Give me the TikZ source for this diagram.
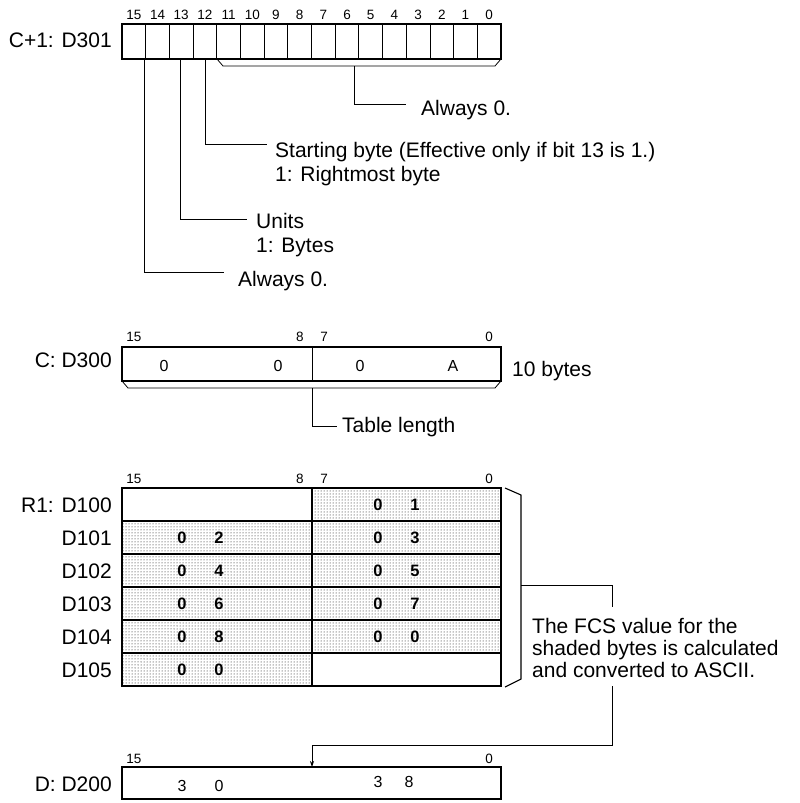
\documentclass[tikz,border=0pt]{standalone}
\usepackage{fontspec}
\setmainfont{Liberation Sans}
\usetikzlibrary{patterns,arrows.meta}
\begin{document}
\begin{tikzpicture}[x=1pt,y=-1pt,
  lbl/.style={inner sep=0pt,font=\fontsize{21}{23}\selectfont},
  bitno/.style={inner sep=0pt,font=\fontsize{13.5}{14}\selectfont},
  val/.style={inner sep=0pt,font=\fontsize{16}{18}\selectfont},
  bval/.style={inner sep=0pt,font=\fontsize{16.5}{18}\selectfont\bfseries},
  reg/.style={draw,line width=1.1pt},
  conn/.style={line width=0.8pt},
  shaded/.style={pattern=dots,pattern color=black},
]
\useasboundingbox (0,0) rectangle (800,803);

% ---------- C+1: D301 ----------
\draw[reg] (122,24) rectangle (501,59);
\foreach \i in {1,...,15} \draw[line width=0.8pt] ({122+\i*23.6875},24) -- ({122+\i*23.6875},59);
\foreach \b [count=\k from 0] in {15,14,13,12,11,10,9,8,7,6,5,4,3,2,1,0}
  \node[bitno] (tb\b) at ({122+(\k+0.5)*23.6875},15) {\b};
\node[lbl,anchor=base east] (labC1) at (112,47) {C+1: D301};

\coordinate (brA) at (217,59);
\coordinate (brB) at (223,66);
\coordinate (brC) at (495,66);
\coordinate (brD) at (501,59);
\draw[conn] (brA) -- (brB) -- (brC) -- (brD);
\coordinate (brM) at (354,66);
\coordinate (alw1) at (406,104);
\draw[conn] (brM) |- (alw1);
\node[lbl,anchor=base west] (talw1) at (421,115) {Always 0.};

\coordinate (b12) at (205,59);
\coordinate (e12) at (267,144);
\draw[conn] (b12) |- (e12);
\node[lbl,anchor=base west] (tstart1) at (275,157.5) {Starting byte (Effective only if bit 13 is 1.)};
\node[lbl,anchor=base west] (tstart2) at (275,181.5) {1: Rightmost byte};

\coordinate (b13) at (180,59);
\coordinate (e13) at (247,219);
\draw[conn] (b13) |- (e13);
\node[lbl,anchor=base west] (tunits1) at (256,228) {Units};
\node[lbl,anchor=base west] (tunits2) at (256,252) {1: Bytes};

\coordinate (b15) at (144,59);
\coordinate (e15) at (224,272);
\draw[conn] (b15) |- (e15);
\node[lbl,anchor=base west] (talw2) at (238,286) {Always 0.};

% ---------- C: D300 ----------
\draw[reg] (122,347) rectangle (501,381);
\draw[line width=0.8pt] (312,347) -- (312,381);
\node[bitno] (m15) at (134,337) {15};
\node[bitno] (m8) at (300,337) {8};
\node[bitno] (m7) at (324,337) {7};
\node[bitno] (m0) at (489,337) {0};
\node[val] (mv1) at (164,365.5) {0};
\node[val] (mv2) at (278,365.5) {0};
\node[val] (mv3) at (360,365.5) {0};
\node[val] (mv4) at (453,365.5) {A};
\node[lbl,anchor=base east] (labC) at (112,367) {C: D300};
\node[lbl,anchor=base west] (t10) at (512,376) {10 bytes};
\coordinate (mbA) at (122,381);
\coordinate (mbB) at (128,388);
\coordinate (mbC) at (495,388);
\coordinate (mbD) at (501,381);
\draw[conn] (mbA) -- (mbB) -- (mbC) -- (mbD);
\coordinate (mbM) at (312,388);
\coordinate (tle) at (337,426);
\draw[conn] (mbM) |- (tle);
\node[lbl,anchor=base west] (ttl) at (342,432) {Table length};

% ---------- Table R1 ----------
\node[bitno] (t15) at (134,479) {15};
\node[bitno] (t8) at (300,479) {8};
\node[bitno] (t7) at (324,479) {7};
\node[bitno] (t0) at (489,479) {0};
% shading
\fill[shaded] (312,488) rectangle (501,521);
\fill[shaded] (122,521) rectangle (501,653);
\fill[shaded] (122,653) rectangle (312,686);
\foreach \y in {521,554,587,620,653} \draw[line width=1.3pt] (122,\y) -- (501,\y);
\draw[line width=1.3pt] (312,488) -- (312,686);
\draw[line width=1.3pt] (122,488) rectangle (501,686);
\foreach \n/\yc in {R1: D100/504.5,D101/537.5,D102/570.5,D103/603.5,D104/636.5,D105/669.5}
  \node[lbl,anchor=base east] at (112,\yc+8) {\n};
\node[bval] (v01a) at (378,504.5) {0}; \node[bval] (v01b) at (415,504.5) {1};
\node[bval] (v02a) at (182,537.5) {0}; \node[bval] (v02b) at (219,537.5) {2};
\node[bval] (v03a) at (378,537.5) {0}; \node[bval] (v03b) at (415,537.5) {3};
\node[bval] (v04a) at (182,570.5) {0}; \node[bval] (v04b) at (219,570.5) {4};
\node[bval] (v05a) at (378,570.5) {0}; \node[bval] (v05b) at (415,570.5) {5};
\node[bval] (v06a) at (182,603.5) {0}; \node[bval] (v06b) at (219,603.5) {6};
\node[bval] (v07a) at (378,603.5) {0}; \node[bval] (v07b) at (415,603.5) {7};
\node[bval] (v08a) at (182,636.5) {0}; \node[bval] (v08b) at (219,636.5) {8};
\node[bval] (v00a) at (378,636.5) {0}; \node[bval] (v00b) at (415,636.5) {0};
\node[bval] (v0xa) at (182,669.5) {0}; \node[bval] (v0xb) at (219,669.5) {0};

% right bracket
\coordinate (rbA) at (505,488);
\coordinate (rbB) at (521,495);
\coordinate (rbC) at (521,679);
\coordinate (rbD) at (505,687);
\draw[line width=1.1pt] (rbA) -- (rbB) -- (rbC) -- (rbD);
\coordinate (rbM) at (521,585);
\coordinate (fcsTop) at (612,607);
\draw[conn] (rbM) -| (fcsTop);
\node[lbl,anchor=base west] (fcs1) at (532,633) {The FCS value for the};
\node[lbl,anchor=base west] (fcs2) at (532,655) {shaded bytes is calculated};
\node[lbl,anchor=base west] (fcs3) at (532,677) {and converted to ASCII.};
\coordinate (fcsBot) at (612,686);
\coordinate (turn) at (612,745);
\coordinate (arr) at (312,767);

% ---------- D: D200 ----------
\draw[reg] (122,767) rectangle (501,799);
\node[bitno] (d15) at (134,759) {15};
\node[bitno] (d0) at (489,759) {0};
\node[val] (dv1) at (182,786) {3};
\node[val] (dv2) at (219,786) {0};
\node[val] (dv3) at (378,781.5) {3};
\node[val] (dv4) at (409,781.5) {8};
\node[lbl,anchor=base east] (labD) at (112,791.5) {D: D200};
\draw[conn,-{Stealth[length=6pt,width=4pt]}] (fcsBot) -- (turn) -| (arr);
\end{tikzpicture}
\end{document}
